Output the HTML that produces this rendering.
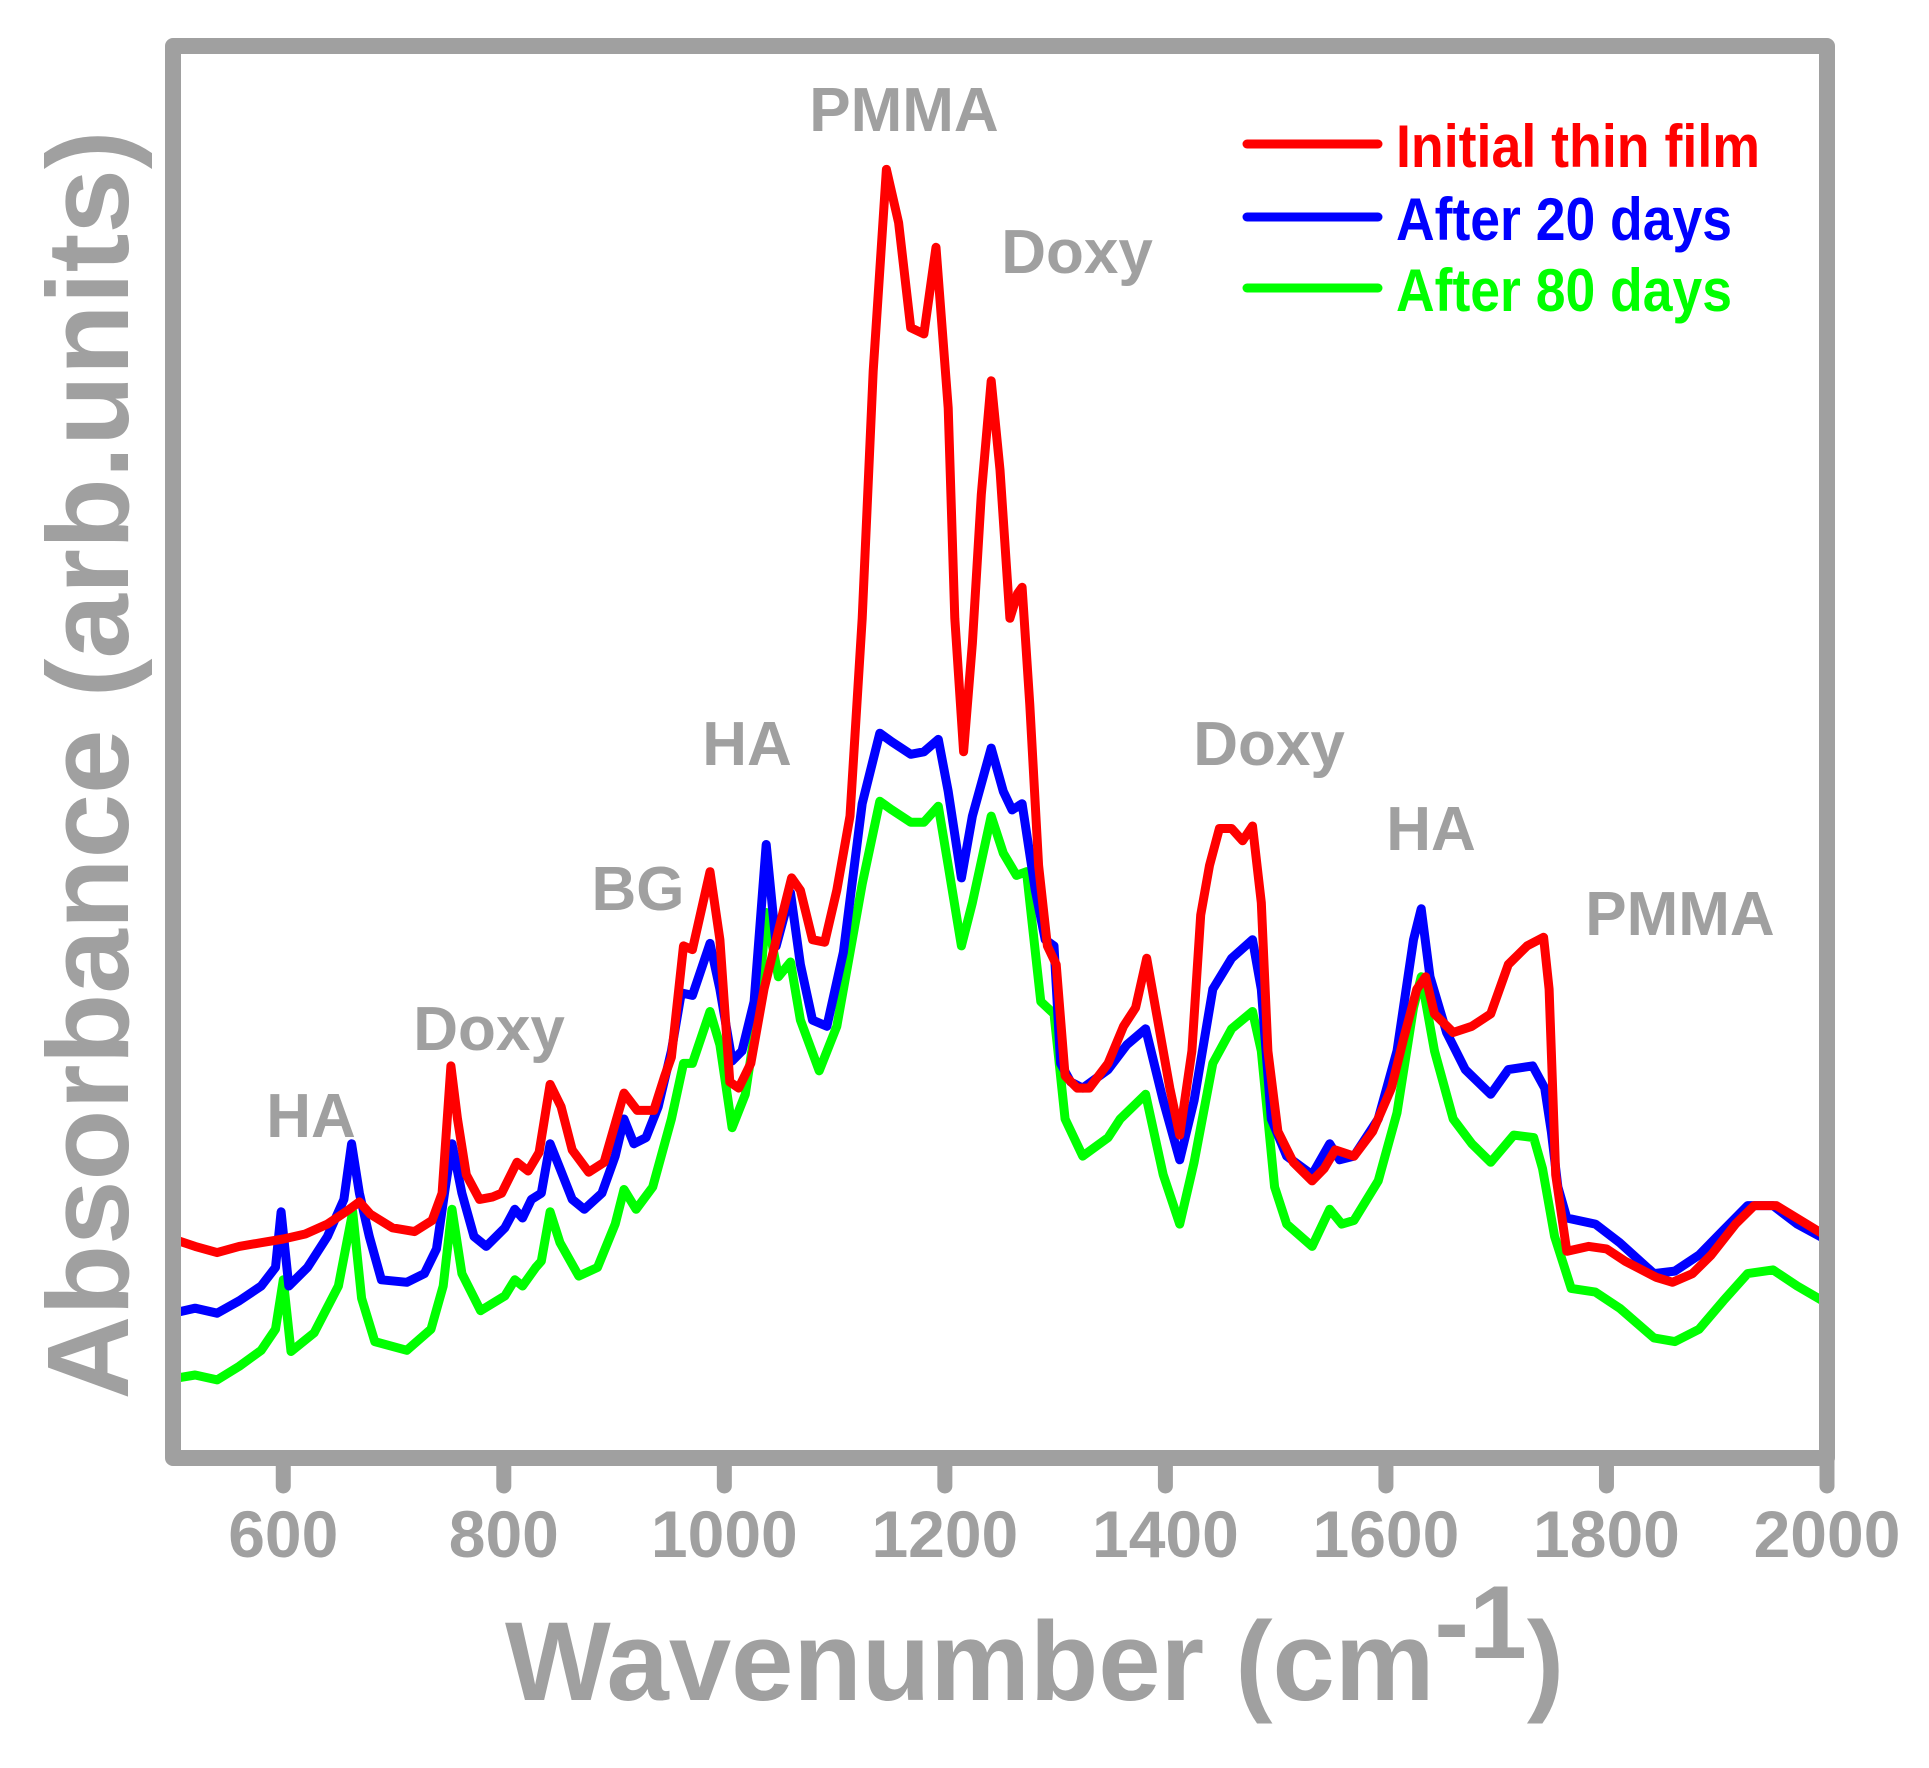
<!DOCTYPE html>
<html><head><meta charset="utf-8"><style>
html,body{margin:0;padding:0;background:#fff;}
svg{display:block;font-family:"Liberation Sans",Arial,sans-serif;font-weight:bold;}
</style></head><body>
<svg id="chart" width="1929" height="1768" viewBox="0 0 1929 1768" xmlns="http://www.w3.org/2000/svg">
<defs><clipPath id="plotclip"><rect x="173" y="46" width="1654" height="1412"/></clipPath></defs>
<g id="series" clip-path="url(#plotclip)"></g>
<rect x="173" y="46" width="1654" height="1412" fill="none" stroke="#a0a0a0" stroke-width="16" stroke-linejoin="round"/>
<g id="xticks"></g>
<text transform="translate(128,765) rotate(-90)" text-anchor="middle" font-size="116" fill="#a0a0a0" textLength="1269" lengthAdjust="spacingAndGlyphs">Absorbance (arb.units)</text>
<text x="505" y="1700" font-size="112" fill="#a0a0a0">Wavenumber (cm<tspan font-size="104" dy="-42">-1</tspan><tspan dy="42">)</tspan></text>
<g font-size="62" fill="#a0a0a0" text-anchor="middle">
<text x="904" y="131">PMMA</text>
<text x="1077" y="273">Doxy</text>
<text x="747" y="765">HA</text>
<text x="638" y="910">BG</text>
<text x="489" y="1050">Doxy</text>
<text x="311" y="1137">HA</text>
<text x="1269" y="765">Doxy</text>
<text x="1431" y="850">HA</text>
<text x="1680" y="935">PMMA</text>
</g>
<g font-size="60">
<g>
<line x1="1247" y1="144" x2="1378" y2="144" stroke="#ff0000" stroke-width="9" stroke-linecap="round"/>
<text x="1396" y="167" fill="#ff0000" textLength="364" lengthAdjust="spacingAndGlyphs">Initial thin film</text></g>
<g>
<line x1="1247" y1="217" x2="1378" y2="217" stroke="#0000ff" stroke-width="9" stroke-linecap="round"/>
<text x="1396" y="240" fill="#0000ff" textLength="336" lengthAdjust="spacingAndGlyphs">After 20 days</text></g>
<g>
<line x1="1247" y1="288" x2="1378" y2="288" stroke="#00ff00" stroke-width="9" stroke-linecap="round"/>
<text x="1396" y="311" fill="#00ff00" textLength="336" lengthAdjust="spacingAndGlyphs">After 80 days</text></g>
</g>
</svg>
<script>
var tickValues = [600, 800, 1000, 1200, 1400, 1600, 1800, 2000];
var redWn = [500,520,540,560,580,600,620,640,660,669,679,699,719,735,744,752,758,766,778,790,798,812,822,832,842,852,862,877,891,909,921,936,946,952,963,971,987,996,1005,1013,1024,1036,1047,1061,1069,1080,1091,1102,1114,1125,1135,1147,1158,1169,1181,1192,1203,1209,1217,1225,1233,1242,1250,1259,1266,1270,1277,1285,1293,1301,1309,1320,1331,1348,1362,1373,1383,1392,1404,1413,1424,1432,1440,1449,1460,1470,1479,1487,1493,1502,1516,1533,1544,1554,1571,1588,1605,1616,1628,1636,1644,1661,1678,1695,1711,1728,1743,1748,1754,1764,1784,1800,1817,1845,1860,1878,1895,1917,1934,1954,2000];
var redAbs = [18.3,17.7,17.2,17.7,18.0,18.3,18.7,19.5,20.7,21.3,20.3,19.2,18.9,19.8,22.0,32.3,28.0,23.5,21.5,21.7,22.0,24.5,23.8,25.3,30.8,29.0,25.5,23.7,24.5,30.1,28.7,28.7,31.5,33.0,42.0,41.7,48.0,42.5,31.0,30.5,32.5,38.5,42.5,47.5,46.5,42.5,42.3,46.5,52.5,68.5,88.5,104.8,100.5,92.0,91.5,98.5,85.5,68.5,57.7,66.5,78.5,87.7,80.5,68.5,70.5,71.0,61.5,48.5,42.0,40.5,31.5,30.5,30.5,32.5,35.5,37.0,41.0,36.5,30.5,26.7,33.5,44.5,48.5,51.5,51.5,50.5,51.7,45.5,33.5,27.0,24.5,23.0,24.0,25.5,25.0,27.0,30.5,34.5,38.5,39.5,36.5,35.0,35.5,36.5,40.5,42.0,42.7,38.5,23.5,17.3,17.7,17.5,16.5,15.2,14.8,15.5,17.0,19.5,21.0,21.0,18.5];
var blueWn = [500,520,540,560,580,593,598,605,622,640,655,662,669,678,689,712,728,739,747,753,762,773,784,801,810,817,825,834,842,851,862,873,889,901,909,918,929,940,952,961,971,987,996,1007,1016,1027,1038,1047,1060,1069,1080,1093,1108,1125,1141,1152,1169,1181,1194,1203,1215,1225,1242,1253,1261,1270,1282,1291,1299,1305,1314,1325,1348,1365,1382,1398,1413,1426,1443,1460,1479,1487,1496,1510,1533,1549,1558,1571,1593,1610,1625,1632,1640,1655,1672,1695,1711,1733,1744,1750,1756,1764,1790,1812,1843,1862,1884,1906,1928,1951,1973,2000];
var blueAbs = [12.3,12.7,12.3,13.3,14.5,16.0,20.5,14.5,16.0,18.5,21.5,26.0,22.0,18.5,15.0,14.8,15.5,17.5,22.5,26.0,22.0,18.5,17.7,19.2,20.7,20.0,21.5,22.0,26.0,24.0,21.5,20.7,22.0,25.0,28.0,26.0,26.5,29.0,33.5,38.2,38.0,42.2,38.5,32.7,33.5,37.5,50.2,42.0,46.3,40.5,36.0,35.5,41.5,53.5,59.2,58.5,57.5,57.7,58.7,54.5,47.5,52.5,58.0,54.5,53.0,53.5,46.5,42.5,42.0,32.5,31.0,30.5,32.0,34.0,35.3,29.5,24.7,29.5,38.5,41.0,42.5,38.5,28.0,25.0,23.5,26.0,24.7,25.0,28.0,33.5,42.5,45.0,39.5,35.0,32.0,30.0,32.0,32.3,30.5,27.0,22.5,20.0,19.5,18.0,15.5,15.7,17.0,19.0,21.0,21.0,19.5,18.2];
var greenWn = [500,520,540,560,580,593,600,607,628,650,663,671,683,712,734,745,753,762,779,801,810,817,829,834,842,851,868,885,901,909,920,935,952,963,971,987,996,1007,1019,1030,1038,1049,1060,1069,1086,1102,1125,1141,1152,1169,1181,1194,1203,1215,1225,1242,1253,1265,1274,1287,1299,1309,1325,1348,1359,1382,1398,1413,1426,1443,1460,1479,1487,1499,1510,1533,1549,1560,1571,1593,1610,1625,1632,1644,1661,1678,1695,1716,1734,1742,1753,1768,1790,1812,1843,1862,1884,1906,1928,1951,1973,2000];
var greenAbs = [7.0,7.3,6.9,8.0,9.3,11.0,15.0,9.2,10.7,14.5,20.5,13.5,10.0,9.3,11.0,14.5,20.7,15.5,12.5,13.7,15.0,14.5,16.0,16.5,20.5,18.0,15.3,16.0,19.5,22.3,20.7,22.5,28.0,32.5,32.5,36.7,34.0,27.3,30.0,36.5,44.7,39.5,40.7,36.0,31.9,35.5,47.0,53.7,53.0,52.0,52.0,53.3,48.5,42.0,45.5,52.5,49.5,47.7,48.0,37.5,36.5,28.0,25.0,26.5,28.0,30.0,23.5,19.5,24.5,32.5,35.3,36.7,33.5,22.5,19.5,17.7,20.7,19.5,19.8,23.0,28.5,37.0,39.5,33.5,28.0,26.0,24.5,26.7,26.5,24.0,18.5,14.3,14.0,12.7,10.3,10.0,11.0,13.3,15.5,15.8,14.5,13.1];

var NS = 'http://www.w3.org/2000/svg';
function xScale(wn){ return 173 + (wn - 500) * (1654 / 1500); }
function yScale(v){ return 1.2365 * (1185 - 10 * v); }

var series = document.getElementById('series');
function drawLine(wns, vals, color, name){
  var pts = [];
  for (var i = 0; i < wns.length; i++) pts.push(xScale(wns[i]).toFixed(1) + ',' + yScale(vals[i]).toFixed(1));
  var pl = document.createElementNS(NS, 'polyline');
  pl.setAttribute('points', pts.join(' '));
  pl.setAttribute('fill', 'none');
  pl.setAttribute('stroke', color);
  pl.setAttribute('stroke-width', '9');
  pl.setAttribute('stroke-linejoin', 'round');
  pl.setAttribute('stroke-linecap', 'round');
  
  
  series.appendChild(pl);
}
drawLine(greenWn, greenAbs, '#00ff00', 'line-after-80-days');
drawLine(blueWn, blueAbs, '#0000ff', 'line-after-20-days');
drawLine(redWn, redAbs, '#ff0000', 'line-initial-thin-film');

var xt = document.getElementById('xticks');
tickValues.forEach(function(t){
  var x = xScale(t);
  var ln = document.createElementNS(NS, 'line');
  ln.setAttribute('x1', x); ln.setAttribute('x2', x);
  ln.setAttribute('y1', 1460); ln.setAttribute('y2', 1486);
  ln.setAttribute('stroke', '#a0a0a0');
  ln.setAttribute('stroke-width', '15');
  ln.setAttribute('stroke-linecap', 'round');
  
  
  xt.appendChild(ln);
  var tx = document.createElementNS(NS, 'text');
  tx.setAttribute('x', x);
  tx.setAttribute('y', 1557);
  tx.setAttribute('text-anchor', 'middle');
  tx.setAttribute('font-size', '66');
  tx.setAttribute('fill', '#a0a0a0');
  
  
  tx.textContent = t;
  xt.appendChild(tx);
});
</script>
</body></html>
